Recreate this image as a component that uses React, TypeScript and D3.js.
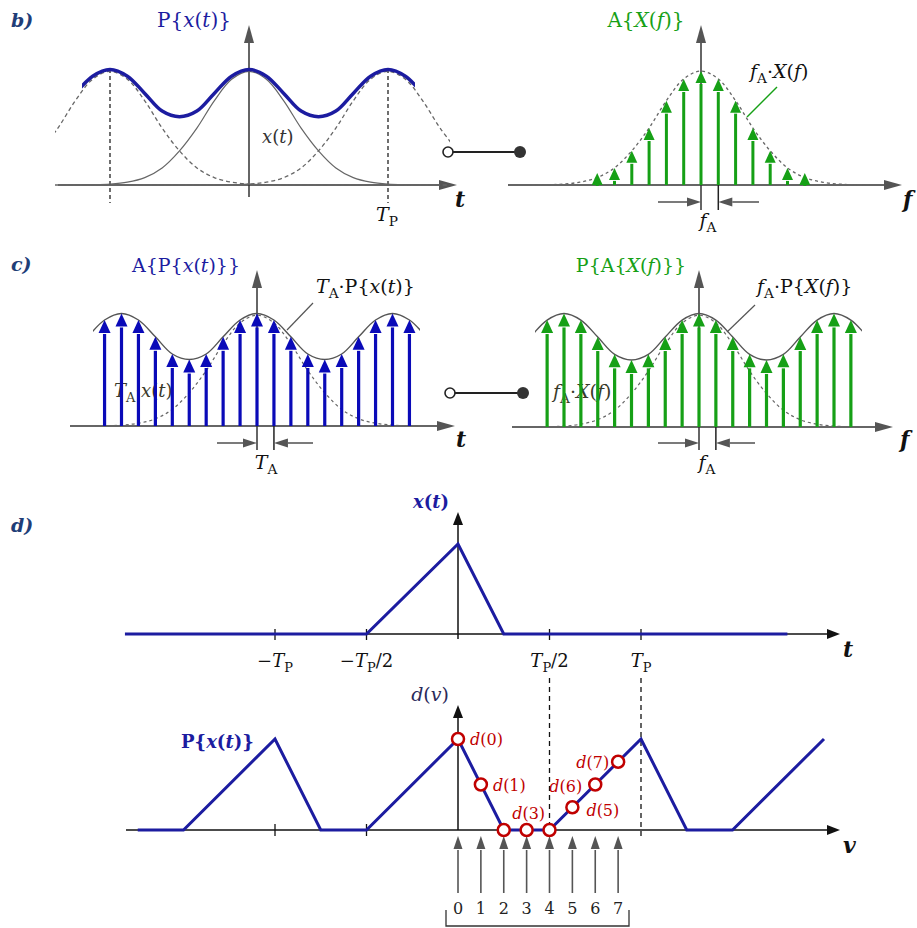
import * as d3 from 'd3';

// bell-shaped pulse x(t) (offset in periods -> relative height)
const BELL_U = [0, 0.125, 0.25, 0.375, 0.5, 0.625, 0.75, 0.875, 1, 1.125, 1.25];
const BELL_V = [1, 0.93, 0.74, 0.5, 0.3, 0.15, 0.065, 0.025, 0.008, 0.002, 0];
const GRID_K = d3.range(-12, 13); // grid index, step = period / 8
const COMB_B = d3.range(-6, 7);
const COMB_C = d3.range(-9, 10);
const SHIFTS = [-2, -1, 0, 1, 2];

// triangle pulse of panel d (time in periods)
const PULSE_T = [-0.5, 0, 0.25];
const PULSE_X = [0, 1, 0];
const PERIODS_D = [-1, 0, 1, 2];
const D_INDEX = [0, 1, 2, 3, 4, 5, 6, 7];
const D_VALUES = [1, 0.5, 0, 0, 0, 0.25, 0.5, 0.75];
const D_TICKS = [-1, -0.5, 0.5, 1];
const D_TICK_LABELS = ['−*T*_P', '−*T*_P/2', '*T*_P/2', '*T*_P'];

const SERIF = "'DejaVu Serif', 'Liberation Serif', serif";
const BLUE = '#1c1ca0';
const BLUE2 = '#0a0ab8';
const GREEN = '#16a016';
const RED = '#c00000';
const GRAY = '#555';

const bellAt = (u: number) => {
  const i = BELL_U.findIndex(v => Math.abs(v - Math.abs(u)) < 1e-6);
  return i < 0 ? 0 : BELL_V[i];
};
const periodicAt = (u: number) => SHIFTS.reduce((s, p) => s + bellAt(u - p), 0);
const gridU = GRID_K.map(k => k / 8);

type Seg = { t: string; i: boolean; sub: boolean };
function parse(s: string): Seg[] {
  const segs: Seg[] = [];
  let it = false;
  for (let k = 0; k < s.length; k++) {
    const c = s[k];
    if (c === '*') { it = !it; continue; }
    if (c === '_') { segs.push({ t: s[k + 1], i: false, sub: true }); k++; continue; }
    const last = segs[segs.length - 1];
    if (last && last.i === it && !last.sub) last.t += c;
    else segs.push({ t: c, i: it, sub: false });
  }
  return segs;
}

function MathText({ x, y, s, size = 17, fill = '#222', anchor = 'start', weight = 'normal' }: any) {
  let shift = 0;
  return (
    <text x={x} y={y} fontSize={size} fill={fill} textAnchor={anchor} fontWeight={weight} fontFamily={SERIF}>
      {parse(s).map((g, k) => {
        const target = g.sub ? size * 0.28 : 0;
        const dy = target - shift;
        shift = target;
        return (
          <tspan key={k} dy={dy} fontStyle={g.i ? 'italic' : 'normal'} fontSize={g.sub ? size * 0.72 : size}>
            {g.t}
          </tspan>
        );
      })}
    </text>
  );
}

// vertical arrow, base y0 -> tip y1
function VArrow({ x, y0, y1, color, w = 3, hw = 5, hl = 11 }: any) {
  const dir = y1 < y0 ? -1 : 1;
  const tip = dir < 0 ? Math.min(y1, y0 - hl) : Math.max(y1, y0 + hl);
  const hb = tip - dir * hl;
  return (
    <g>
      <line x1={x} x2={x} y1={y0} y2={hb - dir * 1} stroke={color} strokeWidth={w} />
      <path d={`M${x},${tip}L${x - hw},${hb}L${x + hw},${hb}Z`} fill={color} />
    </g>
  );
}

function HArrow({ x0, x1, y, color = '#333', head = GRAY, w = 1.3, hw = 4.5, hl = 14 }: any) {
  const dir = x1 > x0 ? 1 : -1;
  const hb = x1 - dir * hl;
  return (
    <g>
      <line x1={x0} x2={hb} y1={y} y2={y} stroke={color} strokeWidth={w} />
      <path d={`M${x1},${y}L${hb},${y - hw}L${hb},${y + hw}Z`} fill={head} />
    </g>
  );
}

function Axis({ x0, x1, y, color = '#333', head = GRAY, w = 1.5, hw = 5, hl = 18 }: any) {
  return <HArrow x0={x0} x1={x1} y={y} color={color} head={head} w={w} hw={hw} hl={hl} />;
}

function YAxis({ x, y0, y1, color = '#333', head = GRAY, w = 1.5, hw = 5, hl = 18 }: any) {
  return (
    <g>
      <line x1={x} x2={x} y1={y0} y2={y1 + hl} stroke={color} strokeWidth={w} />
      <path d={`M${x},${y1}L${x - hw},${y1 + hl}L${x + hw},${y1 + hl}Z`} fill={head} />
    </g>
  );
}

function Connector({ x0, x1, y }: any) {
  return (
    <g>
      <line x1={x0} x2={x1} y1={y} y2={y} stroke="#222" strokeWidth={2} />
      <circle cx={x0} cy={y} r={5} fill="#fff" stroke="#222" strokeWidth={1.6} />
      <circle cx={x1} cy={y} r={6} fill="#333" />
    </g>
  );
}

function curve(xs: any, ys: any, f: (u: number) => number) {
  return d3.line<number>().x(u => xs(u)).y(u => ys(f(u))).curve(d3.curveCatmullRom)(gridU) || '';
}

export default function App() {
  // panel b
  const xBL = d3.scaleLinear().domain([-1, 1]).range([110, 388]);
  const yBL = d3.scaleLinear().domain([0, 1.02]).range([185, 69]);
  const xBR = d3.scaleLinear().domain([-1, 1]).range([562.6, 839.4]);
  const yBR = d3.scaleLinear().domain([0, 1]).range([185, 71]);
  // panel c
  const xCL = d3.scaleLinear().domain([-1, 1]).range([121.5, 392.5]);
  const yCL = d3.scaleLinear().domain([0, 1.02]).range([426, 313]);
  const xCR = d3.scaleLinear().domain([-1, 1]).range([564, 834]);
  const yCR = d3.scaleLinear().domain([0, 1.02]).range([427, 313]);
  // panel d
  const xD = d3.scaleLinear().domain([-1, 1]).range([275, 641]);
  const yDT = d3.scaleLinear().domain([0, 1]).range([634, 544]);
  const yDB = d3.scaleLinear().domain([0, 1]).range([830, 739]);
  const triLine = d3.line<number[]>().x(p => xD(p[0])).y(p => p[2] ? yDB(p[1]) : yDT(p[1]));

  const topPts = [[-1.82, 0], ...PULSE_T.map((t, i) => [t, PULSE_X[i]]), [1.8, 0]];
  const botPts: number[][] = [[-1.75, 0, 1]];
  PERIODS_D.forEach(p => PULSE_T.forEach((t, i) => {
    if (t + p <= 2) botPts.push([t + p, PULSE_X[i], 1]);
  }));

  const dLabel: Record<number, [number, number, string]> = {
    0: [12, 6, 'start'], 1: [12, 6, 'start'], 3: [2, -11, 'middle'],
    5: [14, 9, 'start'], 6: [-13, 7, 'end'], 7: [-9, 6, 'end'],
  };

  return (
    <svg width={917} height={928} style={{ position: 'absolute', left: 0, top: 0, background: '#fff' }}>
      <defs>
        <clipPath id="cbl"><rect x={82} y={0} width={333} height={240} /></clipPath>
        <clipPath id="cbd"><rect x={55} y={0} width={395} height={240} /></clipPath>
        <clipPath id="cbr"><rect x={530} y={0} width={340} height={240} /></clipPath>
        <clipPath id="ccl"><rect x={93} y={240} width={327} height={240} /></clipPath>
        <clipPath id="ccr"><rect x={535} y={240} width={327} height={240} /></clipPath>
      </defs>

      {/* section labels */}
      {[['b)', 27], ['c)', 271], ['d)', 532]].map(([t, y]) => (
        <text key={t as string} x={11} y={y as number} fontFamily={SERIF} fontSize={19} fontWeight="bold"
          fontStyle="italic" fill="#1f3e78">{t}</text>
      ))}

      {/* ---------- b left ---------- */}
      <Axis x0={58} x1={457} y={185} />
      <YAxis x={249} y0={197} y1={25} />
      {[-1, 1].map(p => (
        <line key={p} x1={xBL(p)} x2={xBL(p)} y1={yBL(1.02)} y2={203} stroke="#222" strokeWidth={1.3} strokeDasharray="4,3" />
      ))}
      <g clipPath="url(#cbd)">
        {[-1, 1].map(p => (
          <path key={p} d={curve(xBL, yBL, u => bellAt(u - p))} fill="none" stroke="#666" strokeWidth={1.3} strokeDasharray="4,3" />
        ))}
      </g>
      <g clipPath="url(#cbl)">
        <path d={curve(xBL, yBL, bellAt)} fill="none" stroke="#666" strokeWidth={1.2} />
        <path d={curve(xBL, yBL, periodicAt)} fill="none" stroke={BLUE} strokeWidth={3.5} />
      </g>
      <MathText x={194} y={27} s="P{*x*(*t*)}" size={20} fill={BLUE} anchor="middle" />
      <MathText x={262} y={143} s="*x*(*t*)" size={18} fill="#333" />
      <MathText x={387} y={221} s="*T*_P" size={19} fill="#111" anchor="middle" />
      <MathText x={455} y={207} s="*t*" size={22} fill="#111" weight="bold" />

      <Connector x0={448} x1={520} y={152} />

      {/* ---------- b right ---------- */}
      <Axis x0={508} x1={902} y={185} />
      <YAxis x={701} y0={210} y1={25} />
      <line x1={xBR(1 / 8)} x2={xBR(1 / 8)} y1={185} y2={210} stroke="#222" strokeWidth={1.5} />
      <g clipPath="url(#cbr)">
        <path d={curve(xBR, yBR, bellAt)} fill="none" stroke="#666" strokeWidth={1.3} strokeDasharray="3,3" />
      </g>
      {COMB_B.map(k => (
        <VArrow key={k} x={xBR(k / 8)} y0={185} y1={yBR(bellAt(k / 8))} color={GREEN} w={3} hw={5.5} hl={12} />
      ))}
      <line x1={747} y1={117} x2={777} y2={87} stroke={GREEN} strokeWidth={1.5} />
      <HArrow x0={658} x1={xBR(0)} y={202} />
      <HArrow x0={759} x1={xBR(1 / 8)} y={202} />
      <MathText x={646} y={27} s="A{*X*(*f*)}" size={20} fill={GREEN} anchor="middle" />
      <MathText x={750} y={78} s="*f*_A·*X*(*f*)" size={19} fill="#111" />
      <MathText x={708} y={227} s="*f*_A" size={19} fill="#111" anchor="middle" />
      <MathText x={903} y={207} s="*f*" size={22} fill="#111" weight="bold" />

      {/* ---------- c left ---------- */}
      <Axis x0={70} x1={455} y={426} />
      <YAxis x={257} y0={450} y1={270} />
      <line x1={xCL(1 / 8)} x2={xCL(1 / 8)} y1={426} y2={450} stroke="#222" strokeWidth={1.5} />
      <g clipPath="url(#ccl)">
        <path d={curve(xCL, yCL, bellAt)} fill="none" stroke="#666" strokeWidth={1.2} strokeDasharray="3,3" />
        <path d={curve(xCL, yCL, periodicAt)} fill="none" stroke={GRAY} strokeWidth={1.4} />
      </g>
      <MathText x={114} y={397} s="*T*_A·*x*(*t*)" size={18} fill="#3a3a2a" />
      {COMB_C.map(k => (
        <VArrow key={k} x={xCL(k / 8)} y0={426} y1={yCL(periodicAt(k / 8))} color={BLUE2} w={3.2} hw={6} hl={13} />
      ))}
      <line x1={287} y1={330} x2={313} y2={303} stroke={GRAY} strokeWidth={1.2} />
      <HArrow x0={217} x1={xCL(0)} y={443} />
      <HArrow x0={313} x1={xCL(1 / 8)} y={443} />
      <MathText x={186} y={272} s="A{P{*x*(*t*)}}" size={19} fill={BLUE} anchor="middle" />
      <MathText x={316} y={293} s="*T*_A·P{*x*(*t*)}" size={19} fill="#111" />
      <MathText x={266} y={469} s="*T*_A" size={19} fill="#111" anchor="middle" />
      <MathText x={456} y={447} s="*t*" size={22} fill="#111" weight="bold" />

      <Connector x0={450} x1={523} y={393} />

      {/* ---------- c right ---------- */}
      <Axis x0={512} x1={893} y={427} />
      <YAxis x={699} y0={450} y1={270} />
      <line x1={xCR(1 / 8)} x2={xCR(1 / 8)} y1={427} y2={450} stroke="#222" strokeWidth={1.5} />
      <g clipPath="url(#ccr)">
        <path d={curve(xCR, yCR, bellAt)} fill="none" stroke="#666" strokeWidth={1.2} strokeDasharray="3,3" />
        <path d={curve(xCR, yCR, periodicAt)} fill="none" stroke={GRAY} strokeWidth={1.4} />
      </g>
      <MathText x={553} y={398} s="*f*_A·*X*(*f*)" size={19} fill="#3a3a2a" />
      {COMB_C.map(k => (
        <VArrow key={k} x={xCR(k / 8)} y0={427} y1={yCR(periodicAt(k / 8))} color={GREEN} w={3.2} hw={6} hl={13} />
      ))}
      <line x1={727} y1={332} x2={755} y2={305} stroke={GRAY} strokeWidth={1.2} />
      <HArrow x0={658} x1={xCR(0)} y={443} />
      <HArrow x0={755} x1={xCR(1 / 8)} y={443} />
      <MathText x={631} y={272} s="P{A{*X*(*f*)}}" size={19} fill={GREEN} anchor="middle" />
      <MathText x={757} y={293} s="*f*_A·P{*X*(*f*)}" size={19} fill="#111" />
      <MathText x={707} y={469} s="*f*_A" size={19} fill="#111" anchor="middle" />
      <MathText x={900} y={447} s="*f*" size={22} fill="#111" weight="bold" />

      {/* ---------- d top ---------- */}
      <Axis x0={125} x1={840} y={634} color="#111" head="#111" hw={5} hl={13} />
      <YAxis x={xD(0)} y0={639} y1={512} color="#111" head="#111" hw={5} hl={13} />
      {D_TICKS.map(t => (
        <line key={t} x1={xD(t)} x2={xD(t)} y1={629} y2={640} stroke="#111" strokeWidth={1.3} />
      ))}
      <path d={triLine(topPts) || ''} fill="none" stroke={BLUE} strokeWidth={3} />
      {D_TICKS.map((t, i) => (
        <MathText key={t} x={xD(t)} y={667} s={D_TICK_LABELS[i]} size={18} fill="#111" anchor="middle" />
      ))}
      <MathText x={431} y={508} s="*x*(*t*)" size={18} fill={BLUE} weight="bold" anchor="middle" />
      <MathText x={843} y={657} s="*t*" size={22} fill="#111" weight="bold" />

      {/* ---------- d bottom ---------- */}
      {[0.5, 1].map(t => (
        <line key={t} x1={xD(t)} x2={xD(t)} y1={678} y2={838} stroke="#111" strokeWidth={1.3} strokeDasharray="5,4" />
      ))}
      <Axis x0={126} x1={840} y={830} color="#111" head="#111" hw={5} hl={13} />
      <YAxis x={xD(0)} y0={830} y1={705} color="#111" head="#111" hw={5} hl={13} />
      {[-1, -0.5].map(t => (
        <line key={t} x1={xD(t)} x2={xD(t)} y1={824} y2={836} stroke="#111" strokeWidth={1.3} />
      ))}
      <path d={triLine(botPts) || ''} fill="none" stroke={BLUE} strokeWidth={3} />
      {D_INDEX.map(n => (
        <VArrow key={n} x={xD(n / 8)} y0={893} y1={836} color={GRAY} w={1.6} hw={4.5} hl={13} />
      ))}
      {D_INDEX.map(n => (
        <circle key={n} cx={xD(n / 8)} cy={yDB(D_VALUES[n])} r={6} fill="#fff" stroke={RED} strokeWidth={2.5} />
      ))}
      {D_INDEX.filter(n => dLabel[n]).map(n => (
        <MathText key={n} x={xD(n / 8) + dLabel[n][0]} y={yDB(D_VALUES[n]) + dLabel[n][1]}
          s={`*d*(${n})`} size={16} fill={RED} anchor={dLabel[n][2]} />
      ))}
      {D_INDEX.map(n => (
        <text key={n} x={xD(n / 8)} y={914} textAnchor="middle" fontFamily={SERIF} fontSize={16} fill="#222">{n}</text>
      ))}
      <path d="M446,910V926H629V910" fill="none" stroke="#333" strokeWidth={1.3} />
      <MathText x={430} y={701} s="*d*(*v*)" size={19} fill="#2a2a5a" anchor="middle" />
      <MathText x={181} y={748} s="P{*x*(*t*)}" size={18} fill={BLUE} weight="bold" />
      <MathText x={843} y={853} s="*v*" size={22} fill="#111" weight="bold" />
    </svg>
  );
}
